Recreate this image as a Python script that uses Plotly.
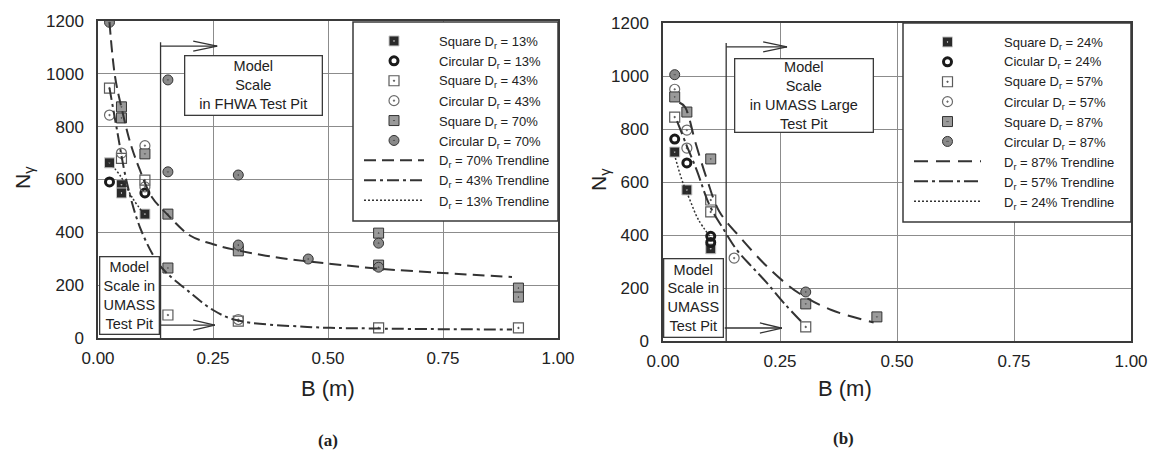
import plotly.graph_objects as go

# ---------------- data (a) FHWA ----------------
a_sq13_B = [0.025, 0.051, 0.051, 0.102]
a_sq13_N = [663, 580, 549, 469]
a_ci13_B = [0.025, 0.102]
a_ci13_N = [591, 549]
a_sq43_B = [0.025, 0.051, 0.102, 0.152, 0.305, 0.61, 0.914]
a_sq43_N = [946, 680, 598, 87, 64, 38, 38]
a_ci43_B = [0.025, 0.051, 0.102, 0.102, 0.305]
a_ci43_N = [844, 700, 728, 572, 70]
a_sq70_B = [0.051, 0.051, 0.102, 0.152, 0.152, 0.305, 0.61, 0.61, 0.914, 0.914]
a_sq70_N = [875, 833, 697, 469, 265, 330, 397, 276, 189, 155]
a_ci70_B = [0.025, 0.152, 0.152, 0.305, 0.305, 0.457, 0.61, 0.61]
a_ci70_N = [1195, 977, 629, 617, 352, 299, 359, 268]

a_tr70_B = [0.025, 0.037, 0.052, 0.07, 0.091, 0.117, 0.15, 0.2, 0.25, 0.3, 0.4, 0.5, 0.6, 0.75, 0.9]
a_tr70_N = [1195, 990, 865, 740, 636, 534, 469, 388, 355, 333, 302, 282, 264, 246, 231]
a_tr43_B = [0.025, 0.04, 0.063, 0.091, 0.128, 0.15, 0.193, 0.25, 0.3, 0.455, 0.6, 0.9]
a_tr43_N = [946, 800, 587, 420, 290, 245, 182, 106, 68, 42, 36, 32]
a_tr13_B = [0.025, 0.05, 0.075, 0.1]
a_tr13_N = [665, 610, 530, 469]

a_legend_labels = [
    "Square D<sub>r</sub> = 13%", "Circular D<sub>r</sub> = 13%",
    "Square D<sub>r</sub> = 43%", "Circular D<sub>r</sub> = 43%",
    "Square D<sub>r</sub> = 70%", "Circular D<sub>r</sub> = 70%",
    "D<sub>r</sub> = 70% Trendline", "D<sub>r</sub> = 43% Trendline", "D<sub>r</sub> = 13% Trendline",
]

# ---------------- data (b) UMASS ----------------
b_sq24_B = [0.025, 0.051, 0.102]
b_sq24_N = [713, 570, 348]
b_ci24_B = [0.025, 0.051, 0.102, 0.102]
b_ci24_N = [762, 672, 395, 372]
b_sq57_B = [0.025, 0.102, 0.102, 0.305]
b_sq57_N = [845, 532, 487, 53]
b_ci57_B = [0.025, 0.051, 0.051, 0.152]
b_ci57_N = [950, 796, 728, 313]
b_sq87_B = [0.025, 0.051, 0.102, 0.305, 0.457]
b_sq87_N = [921, 864, 687, 140, 91]
b_ci87_B = [0.025, 0.305]
b_ci87_N = [1005, 185]

b_tr87_B = [0.035, 0.047, 0.07, 0.094, 0.12, 0.17, 0.23, 0.29, 0.36, 0.45]
b_tr87_N = [900, 883, 745, 610, 490, 381, 268, 181, 117, 70]
b_tr57_B = [0.03, 0.05, 0.072, 0.1, 0.13, 0.158, 0.19, 0.222, 0.26, 0.3]
b_tr57_N = [830, 740, 645, 510, 420, 343, 280, 219, 140, 65]
b_tr24_B = [0.022, 0.04, 0.058, 0.075, 0.1]
b_tr24_N = [720, 610, 530, 460, 395]

b_legend_labels = [
    "Square D<sub>r</sub> = 24%", "Cicular D<sub>r</sub> = 24%",
    "Square D<sub>r</sub> = 57%", "Circular D<sub>r</sub> = 57%",
    "Square D<sub>r</sub> = 87%", "Circular D<sub>r</sub> = 87%",
    "D<sub>r</sub> = 87% Trendline", "D<sub>r</sub> = 57% Trendline", "D<sub>r</sub> = 24% Trendline",
]

x_ticks = [0, 0.25, 0.5, 0.75, 1.0]
x_ticklabels = ["0.00", "0.25", "0.50", "0.75", "1.00"]
y_ticks = [0, 200, 400, 600, 800, 1000, 1200]

FONT = "Arial, Liberation Sans, sans-serif"
INK = "#222222"
W, H = 1153, 460

fig = go.Figure()

marker_styles = {
    "sq_dark": dict(symbol="square-dot", size=10, color="#2a2a2a", line=dict(color="#c8c8c8", width=1)),
    "ci_dark": dict(symbol="circle-open", size=8, color="#1a1a1a", line=dict(width=3)),
    "sq_light": dict(symbol="square-open-dot", size=10, color="#5a5a5a", line=dict(width=1.2)),
    "ci_light": dict(symbol="circle-open-dot", size=10, color="#6a6a6a", line=dict(width=1.2)),
    "sq_gray": dict(symbol="square-dot", size=10, color="#9a9a9a", line=dict(color="#333333", width=1)),
    "ci_gray": dict(symbol="circle-dot", size=10, color="#8a8a8a", line=dict(color="#333333", width=1)),
}

def add_pts(B, N, style, xa, ya, leg):
    fig.add_trace(go.Scatter(x=B, y=N, mode="markers", name=" ",
                             marker=marker_styles[style], xaxis=xa, yaxis=ya, legend=leg))

def add_line(B, N, dash, width, xa, ya, leg):
    fig.add_trace(go.Scatter(x=B, y=N, mode="lines", name=" ", line_shape="spline",
                             line=dict(color="#333333", width=width, dash=dash),
                             xaxis=xa, yaxis=ya, legend=leg))

# (a)
add_pts(a_sq13_B, a_sq13_N, "sq_dark", "x", "y", "legend")
add_pts(a_ci13_B, a_ci13_N, "ci_dark", "x", "y", "legend")
add_pts(a_sq43_B, a_sq43_N, "sq_light", "x", "y", "legend")
add_pts(a_ci43_B, a_ci43_N, "ci_light", "x", "y", "legend")
add_pts(a_sq70_B, a_sq70_N, "sq_gray", "x", "y", "legend")
add_pts(a_ci70_B, a_ci70_N, "ci_gray", "x", "y", "legend")
add_line(a_tr70_B, a_tr70_N, "12px,6px", 2, "x", "y", "legend")
add_line(a_tr43_B, a_tr43_N, "12px,4px,3px,4px", 2, "x", "y", "legend")
add_line(a_tr13_B, a_tr13_N, "2px,2px", 1.5, "x", "y", "legend")

# (b)
add_pts(b_sq24_B, b_sq24_N, "sq_dark", "x2", "y2", "legend2")
add_pts(b_ci24_B, b_ci24_N, "ci_dark", "x2", "y2", "legend2")
add_pts(b_sq57_B, b_sq57_N, "sq_light", "x2", "y2", "legend2")
add_pts(b_ci57_B, b_ci57_N, "ci_light", "x2", "y2", "legend2")
add_pts(b_sq87_B, b_sq87_N, "sq_gray", "x2", "y2", "legend2")
add_pts(b_ci87_B, b_ci87_N, "ci_gray", "x2", "y2", "legend2")
add_line(b_tr87_B, b_tr87_N, "14px,8px", 2, "x2", "y2", "legend2")
add_line(b_tr57_B, b_tr57_N, "14px,4px,3px,4px", 2, "x2", "y2", "legend2")
add_line(b_tr24_B, b_tr24_N, "2px,2px", 1.5, "x2", "y2", "legend2")

axis_common = dict(showgrid=True, gridcolor="#8c8c8c", gridwidth=1, showline=True, linecolor="#3a3a3a",
                   linewidth=1.5, mirror=True, zeroline=False, ticks="", automargin=False,
                   tickfont=dict(family=FONT, size=17, color=INK))
xa = dict(axis_common, range=[0, 1], tickvals=x_ticks, ticktext=x_ticklabels, ticklabelstandoff=4)
ya = dict(axis_common, range=[0, 1200], tickvals=y_ticks, ticklabelstandoff=9)

leg_common = dict(bgcolor="rgba(0,0,0,0)", borderwidth=0,
                  font=dict(family=FONT, size=13, color=INK), xanchor="left", yanchor="top",
                  itemsizing="trace", traceorder="normal")

shapes = []
# legend frames (white, drawn over grid, under legend content)
shapes.append(dict(type="rect", xref="paper", yref="paper", layer="above",
                   x0=353 / W, x1=558 / W, y0=1 - 221 / H, y1=1 - 22 / H,
                   fillcolor="white", line=dict(color="#3a3a3a", width=1.5)))
shapes.append(dict(type="rect", xref="paper", yref="paper", layer="above",
                   x0=903 / W, x1=1131 / W, y0=1 - 222 / H, y1=1 - 23 / H,
                   fillcolor="white", line=dict(color="#3a3a3a", width=1.5)))

def seg(xr, yr, x0, y0, x1, y1):
    shapes.append(dict(type="line", xref=xr, yref=yr, x0=x0, y0=y0, x1=x1, y1=y1,
                       line=dict(color="#333333", width=1.3)))

# (a) model-scale markers
seg("x", "y", 0.136, 0, 0.136, 1120)
seg("x", "y", 0.136, 1105, 0.259, 1105)
seg("x", "y", 0.207, 1124, 0.259, 1105)
seg("x", "y", 0.207, 1086, 0.259, 1105)
seg("x", "y", 0.135, 49, 0.254, 49)
seg("x", "y", 0.207, 68, 0.254, 49)
seg("x", "y", 0.207, 30, 0.254, 49)
# (b)
seg("x2", "y2", 0.135, 0, 0.135, 1125)
seg("x2", "y2", 0.135, 1110, 0.265, 1110)
seg("x2", "y2", 0.214, 1129, 0.265, 1110)
seg("x2", "y2", 0.214, 1091, 0.265, 1110)
seg("x2", "y2", 0.132, 49, 0.254, 49)
seg("x2", "y2", 0.207, 68, 0.254, 49)
seg("x2", "y2", 0.207, 30, 0.254, 49)

def box(xr, yr, x, y, text, w, h):
    return dict(xref=xr, yref=yr, x=x, y=y, text=text, showarrow=False, width=w, height=h,
                align="center", valign="middle", bgcolor="white", bordercolor="#3a3a3a",
                borderwidth=1.3, borderpad=0, font=dict(family=FONT, size=14.5, color=INK))

annotations = [
    box("x", "y", 0.337, 954, "Model<br>Scale<br>in FHWA Test Pit", 136, 58),
    box("x", "y", 0.068, 160, "Model<br>Scale in<br>UMASS<br>Test Pit", 58, 76),
    box("x2", "y2", 0.301, 925, "Model<br>Scale<br>in UMASS Large<br>Test Pit", 137, 72),
    box("x2", "y2", 0.066, 164, "Model<br>Scale in<br>UMASS<br>Test Pit", 58, 77),
    dict(xref="paper", yref="paper", x=328 / W, y=1 - 388 / H, text="B (m)", showarrow=False,
         font=dict(family=FONT, size=22, color=INK), xanchor="center", yanchor="middle"),
    dict(xref="paper", yref="paper", x=845 / W, y=1 - 388 / H, text="B (m)", showarrow=False,
         font=dict(family=FONT, size=22, color=INK), xanchor="center", yanchor="middle"),
    dict(xref="paper", yref="paper", x=24 / W, y=1 - 178 / H, text="N<sub>γ</sub>", showarrow=False,
         textangle=-90, font=dict(family=FONT, size=21, color=INK), xanchor="center", yanchor="middle"),
    dict(xref="paper", yref="paper", x=600 / W, y=1 - 180 / H, text="N<sub>γ</sub>", showarrow=False,
         textangle=-90, font=dict(family=FONT, size=21, color=INK), xanchor="center", yanchor="middle"),
    dict(xref="paper", yref="paper", x=328 / W, y=1 - 440 / H, text="<b>(a)</b>", showarrow=False,
         font=dict(family="Liberation Serif, Times New Roman, serif", size=17, color=INK),
         xanchor="center", yanchor="middle"),
    dict(xref="paper", yref="paper", x=843 / W, y=1 - 438 / H, text="<b>(b)</b>", showarrow=False,
         font=dict(family="Liberation Serif, Times New Roman, serif", size=17, color=INK),
         xanchor="center", yanchor="middle"),
]

# legend texts, left aligned
for i, lab in enumerate(a_legend_labels):
    annotations.append(dict(xref="paper", yref="paper", x=437 / W, y=1 - (42 + 20 * i) / H,
                            text=lab, showarrow=False, xanchor="left", yanchor="middle", align="left",
                            font=dict(family=FONT, size=13, color=INK)))
for i, lab in enumerate(b_legend_labels):
    annotations.append(dict(xref="paper", yref="paper", x=1002 / W, y=1 - (43 + 20 * i) / H,
                            text=lab, showarrow=False, xanchor="left", yanchor="middle", align="left",
                            font=dict(family=FONT, size=13, color=INK)))

fig.update_layout(
    width=W, height=H, autosize=False,
    margin=dict(l=0, r=0, t=0, b=0, pad=0, autoexpand=False),
    paper_bgcolor="white", plot_bgcolor="white",
    font=dict(family=FONT, color=INK),
    xaxis=dict(xa, domain=[98 / W, 558 / W], anchor="y"),
    yaxis=dict(ya, domain=[1 - 338 / H, 1 - 21 / H], anchor="x"),
    xaxis2=dict(xa, domain=[663 / W, 1131 / W], anchor="y2"),
    yaxis2=dict(ya, domain=[1 - 341 / H, 1 - 23 / H], anchor="x2"),
    legend=dict(leg_common, x=359 / W, y=1 - 26 / H, itemwidth=60),
    legend2=dict(leg_common, x=909 / W, y=1 - 27 / H, itemwidth=67),
    shapes=shapes,
    annotations=annotations,
    showlegend=True,
)

fig.write_html("out.html",
               post_script="document.body.style.margin='0';document.body.style.overflow='hidden';")
